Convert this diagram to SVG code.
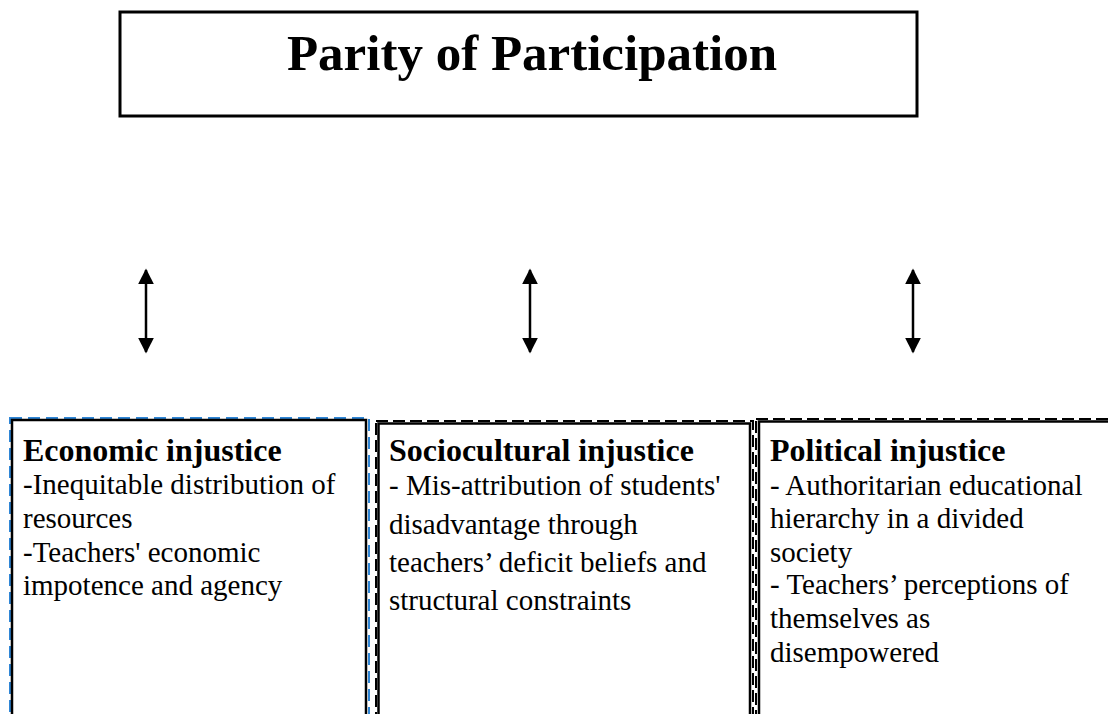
<svg xmlns="http://www.w3.org/2000/svg" width="1108" height="714" viewBox="0 0 1108 714">
<style>
.t{font-family:"Liberation Serif","Times New Roman",serif;fill:#000}
.h{font-weight:bold;font-size:32px}
.b{font-size:29px}
.solid{fill:none;stroke:#000;stroke-width:2.5}
.dash{fill:none;stroke:#000;stroke-width:2;stroke-dasharray:12 5}
.dashb{fill:none;stroke:#2f86d6;stroke-width:2;stroke-dasharray:12 6}
.arr{stroke:#000;stroke-width:2.5;fill:none}
</style>
<defs>
<marker id="ah" viewBox="0 0 10 10" refX="9" refY="5" markerWidth="6.4" markerHeight="6.4" markerUnits="strokeWidth" orient="auto-start-reverse">
<path d="M0,0 L10,5 L0,10 Z" fill="#000"/>
</marker>
</defs>
<rect width="1108" height="714" fill="#fff"/>
<g id="title">
<rect x="120" y="12" width="797" height="104" fill="#fff" stroke="#000" stroke-width="3"/>
<text class="t" x="532" y="70" text-anchor="middle" font-weight="bold" font-size="51">Parity of Participation</text>
</g>
<g id="connectors">
<line class="arr" x1="146" y1="270" x2="146" y2="352" marker-start="url(#ah)" marker-end="url(#ah)"/>
<line class="arr" x1="530" y1="270" x2="530" y2="352" marker-start="url(#ah)" marker-end="url(#ah)"/>
<line class="arr" x1="913" y1="270" x2="913" y2="352" marker-start="url(#ah)" marker-end="url(#ah)"/>
</g>
<g id="economic">
<rect class="dashb" x="10" y="418" width="359" height="310"/>
<rect class="solid" x="12" y="420" width="354" height="310"/>
<text class="t h" x="23" y="461">Economic injustice</text>
<text class="t b"><tspan x="23" y="494">-Inequitable distribution of</tspan><tspan x="23" y="528">resources</tspan><tspan x="23" y="562">-Teachers' economic</tspan><tspan x="23" y="595">impotence and agency</tspan></text>
</g>
<g id="sociocultural">
<rect class="dash" x="376" y="421" width="377" height="310"/>
<rect class="solid" x="378.5" y="423.5" width="371.5" height="310"/>
<text class="t h" x="389" y="461">Sociocultural injustice</text>
<text class="t b"><tspan x="389" y="495">- Mis-attribution of students'</tspan><tspan x="389" y="534">disadvantage through</tspan><tspan x="389" y="572">teachers’ deficit beliefs and</tspan><tspan x="389" y="610">structural constraints</tspan></text>
</g>
<g id="political">
<rect class="dash" x="756" y="419" width="360" height="310"/>
<rect class="solid" x="759" y="421.5" width="360" height="310"/>
<text class="t h" x="770" y="461">Political injustice</text>
<text class="t b"><tspan x="770" y="495">- Authoritarian educational</tspan><tspan x="770" y="528">hierarchy in a divided</tspan><tspan x="770" y="562">society</tspan><tspan x="770" y="594">- Teachers’ perceptions of</tspan><tspan x="770" y="628">themselves as</tspan><tspan x="770" y="662">disempowered</tspan></text>
</g>
</svg>
